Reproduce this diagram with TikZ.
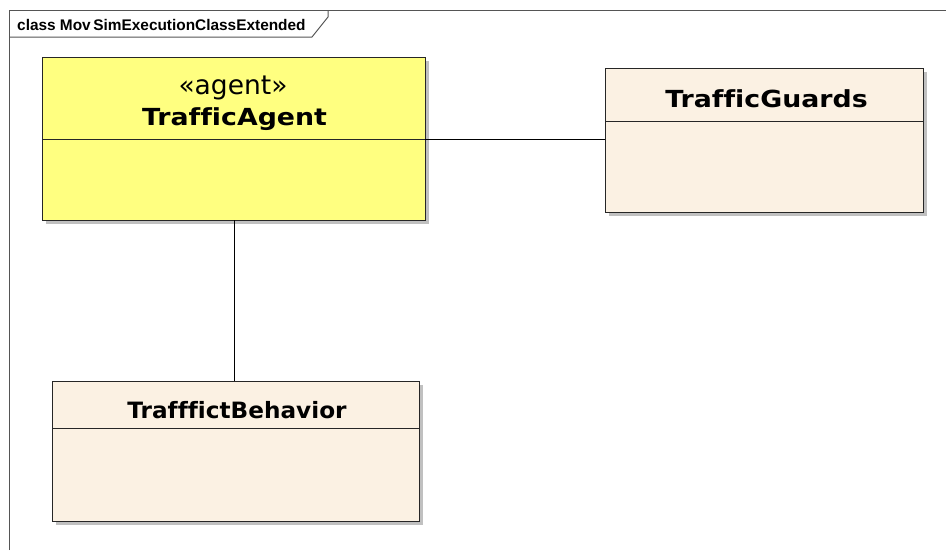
\documentclass[tikz,border=0pt]{standalone}
\usepackage{fontspec}
\setmainfont[Ligatures=NoCommon]{DejaVu Sans}
\newfontfamily\titlefont{Liberation Sans}
\definecolor{framegray}{HTML}{555555}
\definecolor{agentfill}{HTML}{FFFF80}
\definecolor{classfill}{HTML}{FBF1E3}
\definecolor{shadowgray}{HTML}{C0C0C0}
\tikzset{
  umlclass/.style={draw=black!85, line width=1pt, fill=#1},
  shade/.style={fill=shadowgray, draw=none},
  assoc/.style={draw=black, line width=0.8pt},
  framestyle/.style={draw=framegray, line width=1pt},
  classname/.style={font=\bfseries\fontsize{23.5}{28}\selectfont, inner sep=0pt, anchor=base},
  stereo/.style={font=\fontsize{26.5}{31}\selectfont, inner sep=0pt, anchor=base},
}
% class names are set a little wider than the font's natural width
\newcommand{\widename}[2]{\scalebox{#1}[1]{#2}}
\begin{document}
\begin{tikzpicture}[x=1pt,y=-1pt]
  \useasboundingbox (0,0) rectangle (946,550);
  % diagram frame with its name tab
  \draw[framestyle] (9,550) -- (9,10) -- (946,10);
  \draw[framestyle] (9,37) -- (312,37) -- (328,17) -- (328,10);
  \node[anchor=base west, inner sep=0pt, font=\titlefont\bfseries\fontsize{15.4}{18}\selectfont]
    (title) at (17,30.5) {class Mov\,SimExecutionClassExtended};

  % TrafficAgent
  \fill[shade] (46,61) rectangle (429,224);
  \draw[umlclass=agentfill] (42,57) rectangle (425,220);
  \draw[black!85, line width=0.8pt] (42,139) -- (425,139);
  \node[stereo] (agstereo) at (233,94) {«agent»};
  \node[classname] (agent) at (234.5,125) {\widename{1.14}{TrafficAgent}};
  \coordinate (agentR) at (425,139);
  \coordinate (agentB) at (234,220);

  % TrafficGuards
  \fill[shade] (609,72) rectangle (927,216);
  \draw[umlclass=classfill] (605,68) rectangle (923,212);
  \draw[black!85, line width=0.8pt] (605,121) -- (923,121);
  \node[classname] (guards) at (766.5,107) {\widename{1.14}{TrafficGuards}};
  \coordinate (guardsL) at (605,139);

  % TrafffictBehavior
  \fill[shade] (56,385) rectangle (423,525);
  \draw[umlclass=classfill] (52,381) rectangle (419,521);
  \draw[black!85, line width=0.8pt] (52,428) -- (419,428);
  \node[classname, font=\bfseries\fontsize{22.5}{27}\selectfont] (behavior) at (237,418)
    {\widename{1.03}{TrafffictBehavior}};
  \coordinate (behaviorT) at (234,381);

  % associations
  \draw[assoc] (agentR) -- (guardsL);
  \draw[assoc] (agentB) -- (behaviorT);
\end{tikzpicture}
\end{document}
